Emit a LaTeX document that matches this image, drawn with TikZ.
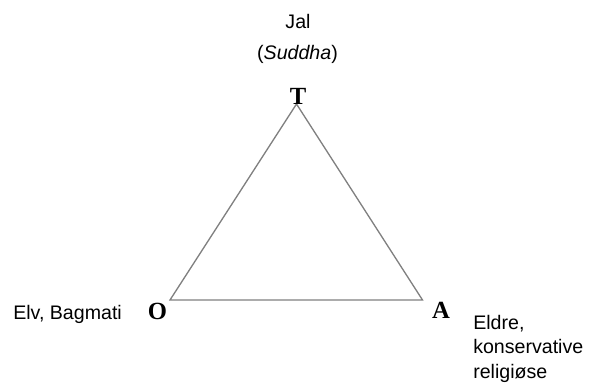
\documentclass[tikz,border=0pt]{standalone}
\usepackage{fontspec}
\setmainfont{Liberation Sans}
\newfontfamily\cornerfont{Liberation Serif}
\usetikzlibrary{positioning}

\begin{document}
\begin{tikzpicture}[x=0.75pt, y=-0.75pt,
    txt/.style={font=\fontsize{14.7}{18}\selectfont, inner sep=0pt},
    corner/.style={font=\cornerfont\bfseries\fontsize{18.5}{18.5}\selectfont, inner sep=0pt},
    side/.style={draw=gray, line width=1pt}]
        \useasboundingbox (0, 0) rectangle (599, 391);

        % triangle
        \coordinate (top) at (296.5, 104);
        \coordinate (left) at (170, 300);
        \coordinate (right) at (422.5, 300);
        \draw[side] (left) -- (top) -- (right) -- cycle;

        % corner letters
        \node[corner] (T) at (298, 96) {T};
        \node[corner] (O) at (157.5, 311) {O};
        \node[corner] (A) at (441, 310) {A};

        % labels
        \node[txt, anchor=base] (jal) at (298, 29) {Jal};
        \node[txt, anchor=base] (suddha) at (297.5, 60) {(\textit{Suddha})};
        \node[txt, anchor=base west] (elv) at (13, 320) {Elv, Bagmati};
        \node[txt, anchor=base west, align=left] (eldre) at (473, 378)
            {Eldre,\\konservative\\religiøse};
    \end{tikzpicture}
\end{document}
